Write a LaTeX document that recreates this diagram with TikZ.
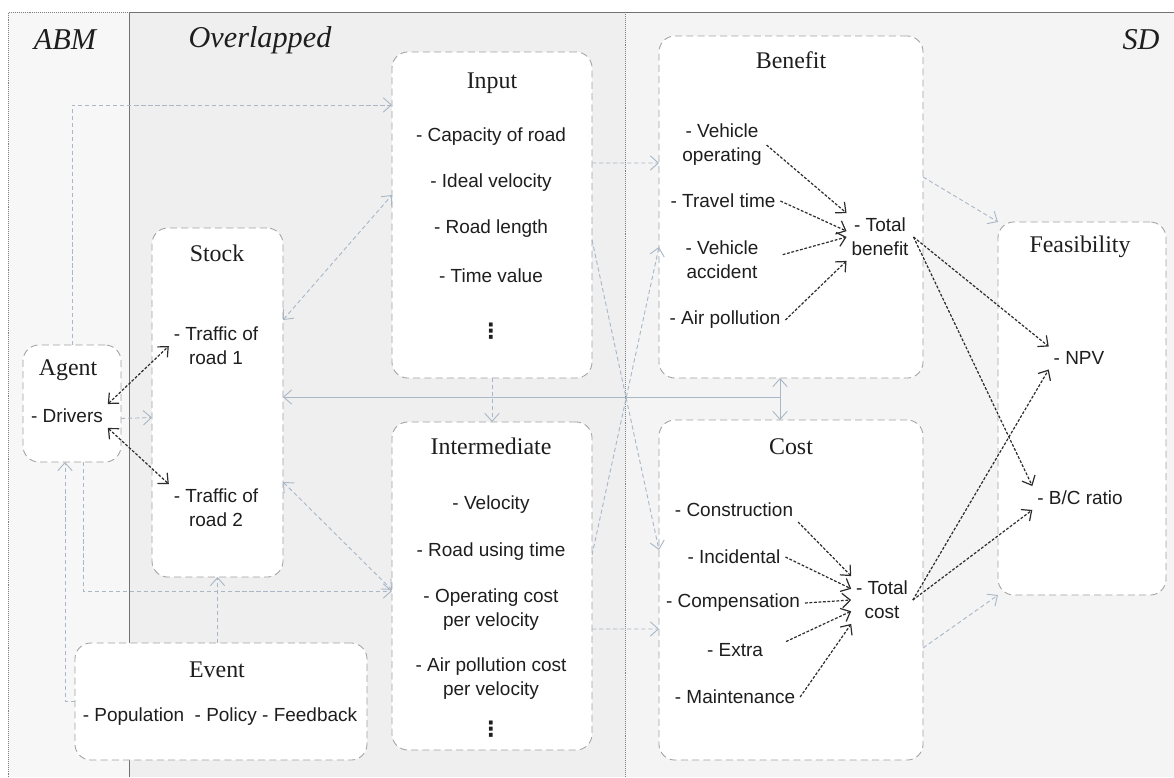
\documentclass[tikz,border=0pt]{standalone}
\usepackage{fontspec}
\setmainfont{Liberation Serif}
\setsansfont{Liberation Sans}
\newfontfamily\dotsfont{DejaVu Sans}
\usetikzlibrary{arrows.meta,calc}

\definecolor{abmbg}{HTML}{F7F7F7}
\definecolor{ovbg}{HTML}{EFEFEF}
\definecolor{sdbg}{HTML}{F4F4F4}
\definecolor{boxc}{HTML}{A0A0A0}
\definecolor{flowc}{HTML}{A9B7C6}
\definecolor{linkc}{HTML}{2C2C2C}
\definecolor{txt}{HTML}{1E1E1E}

\tikzset{
  box/.style={draw=boxc, fill=white, line width=0.6pt, dash pattern=on 5pt off 3pt,
    rounded corners=4mm, inner sep=0pt, outer sep=0pt},
  head/.style={text=txt, font=\fontsize{17}{20}\selectfont},
  item/.style={text=txt, align=center, font=\sffamily\fontsize{13.5}{17}\selectfont},
  vdot/.style={text=txt, font=\dotsfont\bfseries\fontsize{15}{17}\selectfont},
  zone/.style={text=txt, font=\itshape\fontsize{21.5}{24}\selectfont},
  flow/.style={draw=flowc, line width=0.65pt, dash pattern=on 3pt off 2pt, ->},
  bus/.style={draw=flowc, line width=0.65pt},
  link/.style={draw=linkc, line width=0.85pt, dash pattern=on 2pt off 1.2pt},
}

\begin{document}
\begin{tikzpicture}[x=0.025cm, y=-0.025cm, >={Straight Barb[length=2mm,width=3.6mm]}]
\useasboundingbox (0,0) rectangle (1174,777);
\fill[abmbg] (8,12) rectangle (129,777);
\fill[ovbg] (129,12) rectangle (625,777);
\fill[sdbg] (625,12) rectangle (1174,777);
\draw[gray, densely dotted] (8,777) -- (8,12) -- (625,12) -- (625,777);
\draw[gray!90!black] (129,777) -- (129,12) -- (1174,12);

\node[zone] (abm) at (65,40) {ABM};
\node[zone] (ovl) at (260,40) {Overlapped};
\node[zone] (sd) at (1141,40) {SD};

\node[box, minimum width=2.45cm, minimum height=2.925cm] (agent) at (72,403.5) {};
\node[box, minimum width=3.275cm, minimum height=8.725cm] (stock) at (217.5,402.5) {};
\node[box, minimum width=5cm, minimum height=8.15cm] (input) at (492,215) {};
\node[box, minimum width=5cm, minimum height=8.2cm] (inter) at (492,586) {};
\node[box, minimum width=6.6cm, minimum height=8.55cm] (benefit) at (791,207) {};
\node[box, minimum width=6.6cm, minimum height=8.5cm] (cost) at (791,590) {};
\node[box, minimum width=4.2cm, minimum height=9.325cm] (feas) at (1082,408.5) {};
\node[box, minimum width=7.3cm, minimum height=2.925cm] (event) at (221,701.5) {};

\node[head] (hagent) at (68,370) {Agent};
\node[item] (drivers) at (67,416) {- Drivers};

\node[head] (hstock) at (217,253) {Stock};
\node[item] (traffic1) at (216,346) {- Traffic of\\road 1};
\node[item] (traffic2) at (216,508) {- Traffic of\\road 2};

\node[head] (hinput) at (492,83) {Input};
\node[item] (capacity) at (491,137) {- Capacity of road};
\node[item] (idealv) at (491,183) {- Ideal velocity};
\node[item] (roadlen) at (491,229) {- Road length};
\node[item] (timeval) at (491,276) {- Time value};
\node[vdot] (indots) at (491,331) {⋮};

\node[head] (hinter) at (491,446) {Intermediate};
\node[item] (velo) at (491,505) {- Velocity};
\node[item] (usetime) at (491,552) {- Road using time};
\node[item] (opcost) at (491,610) {- Operating cost\\per velocity};
\node[item] (aircost) at (491,679) {- Air pollution cost\\per velocity};
\node[vdot] (imdots) at (491,729) {⋮};

\node[head] (hbenefit) at (791,60) {Benefit};
\node[item] (vehop) at (722,145) {- Vehicle\\operating};
\node[item] (travel) at (723,201) {- Travel time};
\node[item] (vehacc) at (722,260) {- Vehicle\\accident};
\node[item] (airpol) at (725,320) {- Air pollution};
\node[item] (totben) at (880,237) {- Total\\benefit};

\node[head] (hcost) at (791,447) {Cost};
\node[item] (constr) at (734,510) {- Construction};
\node[item] (incid) at (734,557) {- Incidental};
\node[item] (comp) at (733,603) {- Compensation};
\node[item] (extra) at (735,650) {- Extra};
\node[item] (maint) at (735,697) {- Maintenance};
\node[item] (totcost) at (882,600) {- Total\\cost};

\node[head] (hfeas) at (1080,247) {Feasibility};
\node[item] (npv) at (1079,358) {- NPV};
\node[item] (bcr) at (1080,498) {- B/C ratio};

\node[head] (hevent) at (217,670) {Event};
\node[item] (evitems) at (220,717) {- Population\ \ - Policy - Feedback};

\draw[flow] (agent.north) |- ($(input.north west)+(0,53)$);
\draw[flow, <->] ($(stock.north east)+(0,92)$) -- ($(input.north west)+(0,143)$);
\draw[flow] ($(input.north east)+(0,111)$) -- ($(benefit.north west)+(0,127)$);
\draw[flow] (input.south) -- (inter.north);
\draw[flow] ($(input.north east)+(0,188)$) -- ($(cost.north west)+(0,130)$);
\draw[flow] ($(inter.north east)+(0,133)$) -- ($(benefit.north west)+(0,211)$);
\draw[flow] ($(inter.north east)+(0,207)$) -- ($(cost.north west)+(0,209)$);
\draw[flow, <->] ($(stock.north east)+(0,254)$) -- ($(inter.north west)+(0,168)$);
\draw[flow] ($(agent.south)+(11,0)$) |- ($(inter.north west)+(0,169)$);
\draw[flow] ($(agent.east)+(0,15)$) -- ($(stock.west)+(0,15)$);
\draw[flow] (event.north -| stock.south) -- (stock.south);
\draw[flow] (event.west) -| ($(agent.south)+(-7,0)$);
\draw[flow] ($(benefit.north east)+(0,141)$) -- (feas.north west);
\draw[flow] ($(cost.north east)+(0,228)$) -- (feas.south west);
\coordinate (hub) at (780,397);
\draw[bus, ->] (hub) -- (stock.east |- hub);
\draw[bus, <->] (benefit.south -| hub) -- (cost.north -| hub);

\draw[link, <->] (drivers.north east) -- (traffic1.west);
\draw[link, <->] (drivers.south east) -- (traffic2.north west);
\draw[link, ->] (vehop.east) -- (totben.north west);
\draw[link, ->] (travel.east) -- (totben.170);
\draw[link, ->, shorten <=5mm] (vehacc.east) -- (totben.west);
\draw[link, ->] (airpol.east) -- (totben.south west);
\draw[link, ->] (constr.south east) -- (totcost.north west);
\draw[link, ->] (incid.east) -- (totcost.160);
\draw[link, ->] (comp.east) -- (totcost.west);
\draw[link, ->, shorten <=5mm] (extra.east) -- (totcost.200);
\draw[link, ->] (maint.east) -- (totcost.south west);
\draw[link, ->] (totben.east) -- (npv.north west);
\draw[link, ->] (totben.east) -- (bcr.north west);
\draw[link, ->] (totcost.east) -- (npv.south west);
\draw[link, ->] (totcost.east) -- (bcr.south west);
\end{tikzpicture}
\end{document}
